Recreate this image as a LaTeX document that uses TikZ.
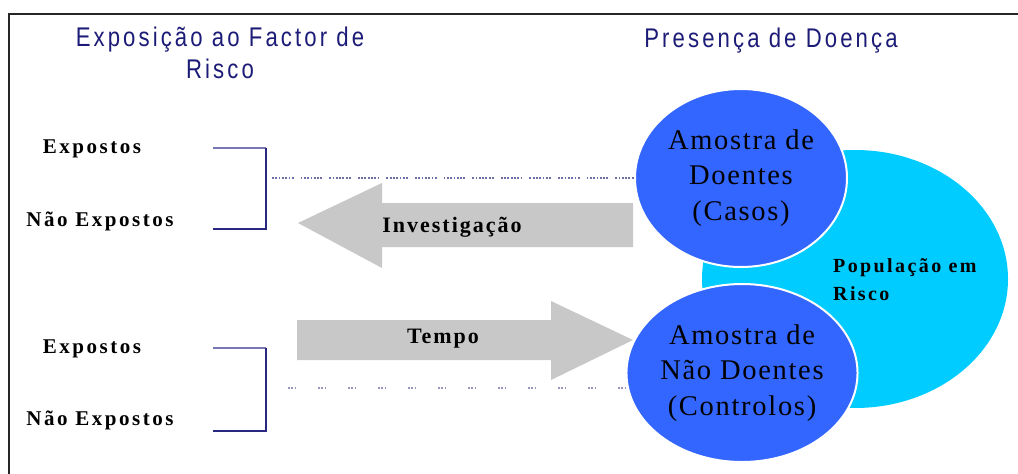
\documentclass[tikz,border=0pt]{standalone}
\usepackage{fontspec}
\setmainfont{Liberation Serif}
\newfontfamily\hdfont[FakeStretch=0.82,LetterSpace=11.5]{Liberation Sans}
\newfontfamily\lblfont[LetterSpace=12]{Liberation Serif}
\newfontfamily\arrfont[LetterSpace=9]{Liberation Serif}
\newfontfamily\circfont[LetterSpace=6]{Liberation Serif}
\usetikzlibrary{shapes.geometric}
\definecolor{navy}{RGB}{28,28,120}
\definecolor{bluefill}{RGB}{51,102,255}
\definecolor{cyanfill}{RGB}{0,204,255}
\definecolor{arrowgray}{RGB}{200,200,200}
\definecolor{brlight}{RGB}{120,120,180}
\definecolor{brdark}{RGB}{40,40,130}
\definecolor{dotcol}{RGB}{110,110,170}
\definecolor{dotcolb}{RGB}{150,150,190}
\tikzset{
  heading/.style={font=\hdfont\fontsize{27}{32}\selectfont, text=navy, align=center, inner sep=0pt},
  lbl/.style={font=\lblfont\bfseries\fontsize{21}{25}\selectfont, inner sep=0pt},
  arrowlbl/.style={font=\arrfont\bfseries\fontsize{22}{26}\selectfont, inner sep=0pt},
  sample/.style={ellipse, fill=bluefill, draw=white, line width=2pt,
    minimum width=212pt, minimum height=178pt, inner sep=0pt,
    font=\circfont\fontsize{28.5}{35.5}\selectfont, align=center},
  popul/.style={ellipse, fill=cyanfill, minimum width=306pt, minimum height=258pt, inner sep=0pt},
  popullbl/.style={font=\lblfont\bfseries\fontsize{20}{28}\selectfont, align=left, inner sep=0pt},
  brtop/.style={draw=brlight, line width=1.6pt},
  brbot/.style={draw=brdark, line width=1.6pt},
  dotsa/.style={draw=dotcol, line width=1.3pt, dash pattern=on 1.8pt off 1.5pt on 1.8pt off 1.5pt on 1.8pt off 1.5pt on 1.8pt off 1.5pt on 1.8pt off 1.5pt on 1.8pt off 1.5pt on 1.8pt off 7pt},
  dotsb/.style={draw=dotcolb, line width=1.3pt, dash pattern=on 1.8pt off 1.5pt on 1.8pt off 1.5pt on 1.8pt off 21.6pt},
  bigarrow/.style={fill=arrowgray}
}
\begin{document}
\begin{tikzpicture}[x=1pt,y=-1pt]
\useasboundingbox (0,0) rectangle (1018,474);
\fill[white] (0,0) rectangle (1018,474);
% frame
\draw[line width=2.5pt, draw=black!85] (9,474) -- (9,14) -- (1018,14);
% headings
\node[heading, anchor=base] (hd1) at (220,78) {Exposição ao Factor de\\Risco};
\node[heading, anchor=base] (hd2) at (771,47) {Presença de Doença};
% left labels
\node[lbl, anchor=base] (e1) at (92,153) {Expostos};
\node[lbl, anchor=base] (n1) at (100,226) {Não Expostos};
\node[lbl, anchor=base] (e2) at (92,353) {Expostos};
\node[lbl, anchor=base] (n2) at (100,425) {Não Expostos};
% brackets
\coordinate (b1a) at (213,148);
\coordinate (b1b) at (266,148);
\coordinate (b1c) at (266,229);
\coordinate (b1d) at (213,229);
\draw[brtop] (b1a) -- (b1b);
\draw[brbot] (b1b) -- (b1c) -- (b1d);
\coordinate (b2a) at (213,348);
\coordinate (b2b) at (266,348);
\coordinate (b2c) at (266,431);
\coordinate (b2d) at (213,431);
\draw[brtop] (b2a) -- (b2b);
\draw[brbot] (b2b) -- (b2c) -- (b2d);
% population and samples
\node[popul] (pop) at (855,279) {};
\node[sample] (casos) at (741,178) {Amostra de\\Doentes\\(Casos)};
\node[sample] (controlos) at (742,373) {Amostra de\\Não Doentes\\(Controlos)};
\node[popullbl, anchor=base west] (popl) at (833,300) {População em\\Risco};
% dotted lines
\coordinate (d1) at (272,178);
\draw[dotsa] (d1) -- (casos.west);
\coordinate (d2a) at (288,388);
\coordinate (d2b) at (630,388);
\draw[dotsb] (d2a) -- (d2b);
% big arrows
\fill[bigarrow] (633,203) -- (382,203) -- (382,183) -- (298,223) -- (382,268) -- (382,247) -- (633,247) -- cycle;
\node[arrowlbl, anchor=base] (inv) at (452,232) {Investigação};
\fill[bigarrow] (297,320) -- (551,320) -- (551,301) -- (633,340) -- (551,380) -- (551,360) -- (297,360) -- cycle;
\node[arrowlbl, anchor=base] (tempo) at (443,343) {Tempo};
\end{tikzpicture}
\end{document}
